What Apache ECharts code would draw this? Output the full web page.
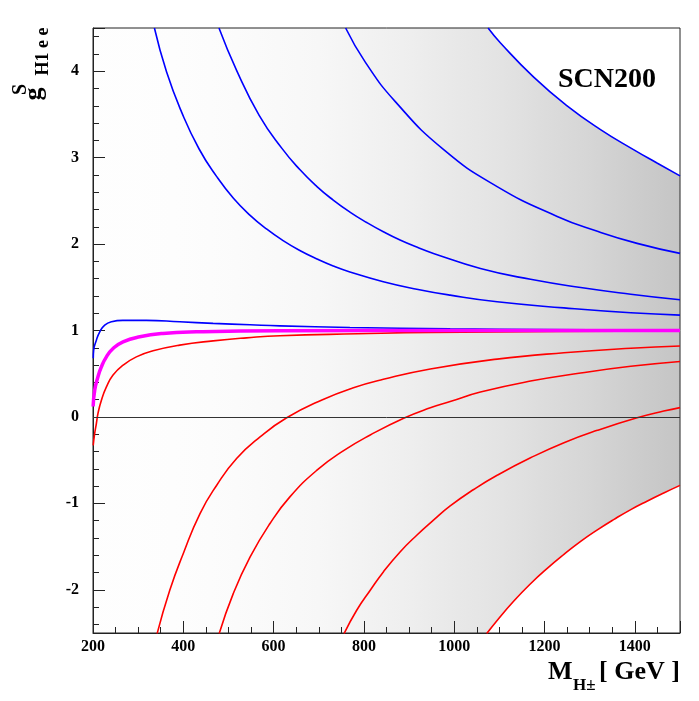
<!DOCTYPE html>
<html>
<head>
<meta charset="utf-8">
<title>SCN200</title>
<script src="https://cdn.jsdelivr.net/npm/echarts@6/dist/echarts.min.js"></script>
<style>
  html, body { margin: 0; padding: 0; background: #fff; }
  #chart { width: 699px; height: 701px; }
</style>
</head>
<body>
<div id="chart"></div>
<script>
// axis ranges
var massRange = [200, 1500];
var gRange = [-2.5, 4.5];

// curves, [M_H+- (GeV), g]
var blue0 = [[200.6, 0.68], [201.5, 0.773], [207.5, 0.888], [215, 0.985], [226, 1.062], [241, 1.101],
    [266, 1.117], [318, 1.117], [392, 1.101], [466, 1.082], [548, 1.066], [614, 1.054], [769, 1.035],
    [991, 1.019], [1100, 1.014], [1300, 1.009], [1500, 1.005]];
var blue1 = [[336, 4.5], [363, 3.99], [396, 3.53], [435, 3.10], [474, 2.78], [511, 2.53], [548, 2.333],
    [585, 2.172], [621, 2.04], [658, 1.926], [696, 1.828], [732, 1.747], [769, 1.678], [843, 1.565],
    [917, 1.478], [991, 1.409], [1095, 1.332], [1243, 1.262], [1391, 1.205], [1500, 1.178]];
var blue2 = [[479, 4.5], [518, 4.01], [568, 3.49], [618, 3.11], [658, 2.862], [696, 2.665], [732, 2.509],
    [769, 2.37], [806, 2.25], [843, 2.142], [880, 2.046], [917, 1.965], [954, 1.892], [1058, 1.718],
    [1169, 1.592], [1280, 1.497], [1391, 1.42], [1500, 1.355]];
var blue3 = [[759.5, 4.5], [803, 4.105], [870, 3.645], [976, 3.095], [1095, 2.665], [1228, 2.32],
    [1317, 2.148], [1405, 2.008], [1500, 1.892]];
var blue4 = [[1075, 4.5], [1102, 4.33], [1176, 3.932], [1250, 3.6], [1324, 3.325], [1398, 3.09],
    [1450, 2.935], [1500, 2.789]];

var red0 = [[200.5, -0.33], [203.5, -0.2], [207.5, -0.076], [211, 0.04], [218.6, 0.194], [229.7, 0.348],
    [244.4, 0.484], [266.5, 0.599], [296, 0.695], [333, 0.765], [392, 0.831], [466, 0.88], [540, 0.915],
    [614, 0.94], [786, 0.962], [947, 0.978], [1230, 0.988], [1500, 0.995]];
var red1 = [[342, -2.507], [370, -2.005], [400, -1.58], [437, -1.118], [474, -0.79], [518, -0.481],
    [570, -0.231], [629, -0.01], [707, 0.197], [775, 0.335], [843, 0.435], [947, 0.555], [1095, 0.669],
    [1243, 0.743], [1391, 0.795], [1500, 0.82]];
var red2 = [[479.5, -2.507], [510.6, -2.044], [548, -1.62], [592, -1.233], [636, -0.925], [696, -0.616],
    [755, -0.39], [814, -0.209], [888, -0.015], [947, 0.106], [991, 0.178], [1058, 0.288], [1169, 0.415],
    [1280, 0.508], [1391, 0.586], [1500, 0.642]];
var red3 = [[756, -2.507], [784, -2.237], [814, -2.005], [843, -1.793], [880, -1.562], [917, -1.369],
    [954, -1.195], [991, -1.03], [1043, -0.84], [1095, -0.675], [1169, -0.473], [1243, -0.298],
    [1317, -0.155], [1405, -0.01], [1464, 0.068], [1500, 0.108]];
var red4 = [[1072, -2.507], [1095, -2.355], [1132, -2.13], [1169, -1.93], [1206, -1.752], [1243, -1.59],
    [1280, -1.44], [1317, -1.307], [1354, -1.185], [1391, -1.072], [1428, -0.972], [1464, -0.88], [1500, -0.792]];

var magenta = [[200.3, 0.12], [203.8, 0.31], [211, 0.464], [218.6, 0.58], [229.7, 0.695], [244.4, 0.792],
    [266.5, 0.869], [303.6, 0.927], [355, 0.966], [429, 0.985], [614, 0.998], [1000, 1.0], [1500, 1.0]];

// scan points: share of pixels covered by dots, read at these masses
var cloudMass = [200, 300, 400, 500, 600, 700, 800, 900, 1000, 1100, 1200, 1300, 1400, 1500];
var cloudCover = [0.01, 0.012, 0.018, 0.025, 0.04, 0.06, 0.09, 0.12, 0.16, 0.2, 0.25, 0.3, 0.36, 0.42];

// the cloud is bounded by the outer blue and red curves
var cloudEdge = [[massRange[0], gRange[1]]]
    .concat(blue4, red4.slice().reverse(), [[massRange[0], gRange[0]]]);

var serif = '"Liberation Serif", "Times New Roman", serif';

function curve(data, color, width, z) {
    return {
        type: 'line',
        data: data,
        showSymbol: false,
        smooth: true,
        silent: true,
        z: z,
        lineStyle: { color: color, width: width }
    };
}

var zeroSeries = curve(red0, '#ff0000', 1.6, 4);
zeroSeries.markLine = {
    silent: true,
    symbol: ['none', 'none'],
    label: { show: false },
    lineStyle: { color: '#333', width: 1, type: 'solid' },
    data: [{ yAxis: 0 }]
};

option = {
    animation: false,
    backgroundColor: '#fff',
    grid: {
        left: 93,
        right: 19,
        top: 28,
        bottom: 68,
        show: true,
        borderColor: '#222',
        borderWidth: 1
    },
    xAxis: {
        type: 'value',
        min: massRange[0],
        max: massRange[1],
        interval: 200,
        axisLine: { onZero: false, lineStyle: { color: '#222' } },
        axisTick: { inside: true, length: 12, lineStyle: { color: '#222' } },
        minorTick: { show: true, splitNumber: 4, length: 6, lineStyle: { color: '#222' } },
        splitLine: { show: false },
        axisLabel: {
            margin: 6,
            showMaxLabel: false,
            color: '#000',
            fontFamily: serif,
            fontWeight: 'bold',
            fontSize: 16,
            formatter: function (v) { return String(v); }
        }
    },
    yAxis: {
        type: 'value',
        min: gRange[0],
        max: gRange[1],
        splitNumber: 7,
        axisLine: { onZero: false, lineStyle: { color: '#222' } },
        axisTick: { inside: true, length: 12, lineStyle: { color: '#222' } },
        minorTick: { show: true, splitNumber: 5, length: 6, lineStyle: { color: '#222' } },
        splitLine: { show: false },
        axisLabel: {
            margin: 14,
            showMinLabel: false,
            showMaxLabel: false,
            color: '#000',
            fontFamily: serif,
            fontWeight: 'bold',
            fontSize: 16
        }
    },
    series: [
        {
            type: 'custom',
            silent: true,
            z: 1,
            data: [[massRange[0], gRange[0]]],
            renderItem: function (params, api) {
                var pts = cloudEdge.map(function (p) { return api.coord(p); });
                var x0 = api.coord([massRange[0], 0])[0];
                var x1 = api.coord([massRange[1], 0])[0];
                var stops = cloudMass.map(function (m, i) {
                    return {
                        offset: (m - massRange[0]) / (massRange[1] - massRange[0]),
                        color: 'rgba(70,70,70,' + (cloudCover[i] * 0.75).toFixed(3) + ')'
                    };
                });
                return {
                    type: 'polygon',
                    shape: { points: pts },
                    style: {
                        fill: new echarts.graphic.LinearGradient(x0, 0, x1, 0, stops, true),
                        stroke: null
                    }
                };
            }
        },
        zeroSeries,
        curve(red1, '#ff0000', 1.6, 4),
        curve(red2, '#ff0000', 1.6, 4),
        curve(red3, '#ff0000', 1.6, 4),
        curve(red4, '#ff0000', 1.6, 4),
        curve(blue0, '#0000ff', 1.6, 5),
        curve(blue1, '#0000ff', 1.6, 5),
        curve(blue2, '#0000ff', 1.6, 5),
        curve(blue3, '#0000ff', 1.6, 5),
        curve(blue4, '#0000ff', 1.6, 5),
        curve(magenta, '#ff00ff', 3.5, 6)
    ],
    graphic: [
        {
            type: 'text', x: 558, y: 80, z: 10,
            style: { text: 'SCN200', font: 'bold 28px ' + serif, fill: '#000', align: 'left', verticalAlign: 'middle' }
        },
        {
            type: 'text', x: 548, y: 672, z: 10,
            style: { text: 'M', font: 'bold 26px ' + serif, fill: '#000', align: 'left', verticalAlign: 'middle' }
        },
        {
            type: 'text', x: 573, y: 686, z: 10,
            style: { text: 'H±', font: 'bold 17px ' + serif, fill: '#000', align: 'left', verticalAlign: 'middle' }
        },
        {
            type: 'text', x: 599, y: 672, z: 10,
            style: { text: '[ GeV ]', font: 'bold 26px ' + serif, fill: '#000', align: 'left', verticalAlign: 'middle' }
        },
        {
            type: 'text', x: 34, y: 94, rotation: Math.PI / 2, z: 10,
            style: { text: 'g', font: 'bold 26px ' + serif, fill: '#000', align: 'center', verticalAlign: 'middle' }
        },
        {
            type: 'text', x: 21, y: 89.5, rotation: Math.PI / 2, z: 10,
            style: { text: 'S', font: 'bold 20px ' + serif, fill: '#000', align: 'center', verticalAlign: 'middle' }
        },
        {
            type: 'text', x: 43, y: 51.5, rotation: Math.PI / 2, z: 10,
            style: { text: 'H1 e e', font: 'bold 18px ' + serif, fill: '#000', align: 'center', verticalAlign: 'middle' }
        }
    ]
};

var myChart = echarts.init(document.getElementById('chart'));
myChart.setOption(option);
</script>
</body>
</html>
